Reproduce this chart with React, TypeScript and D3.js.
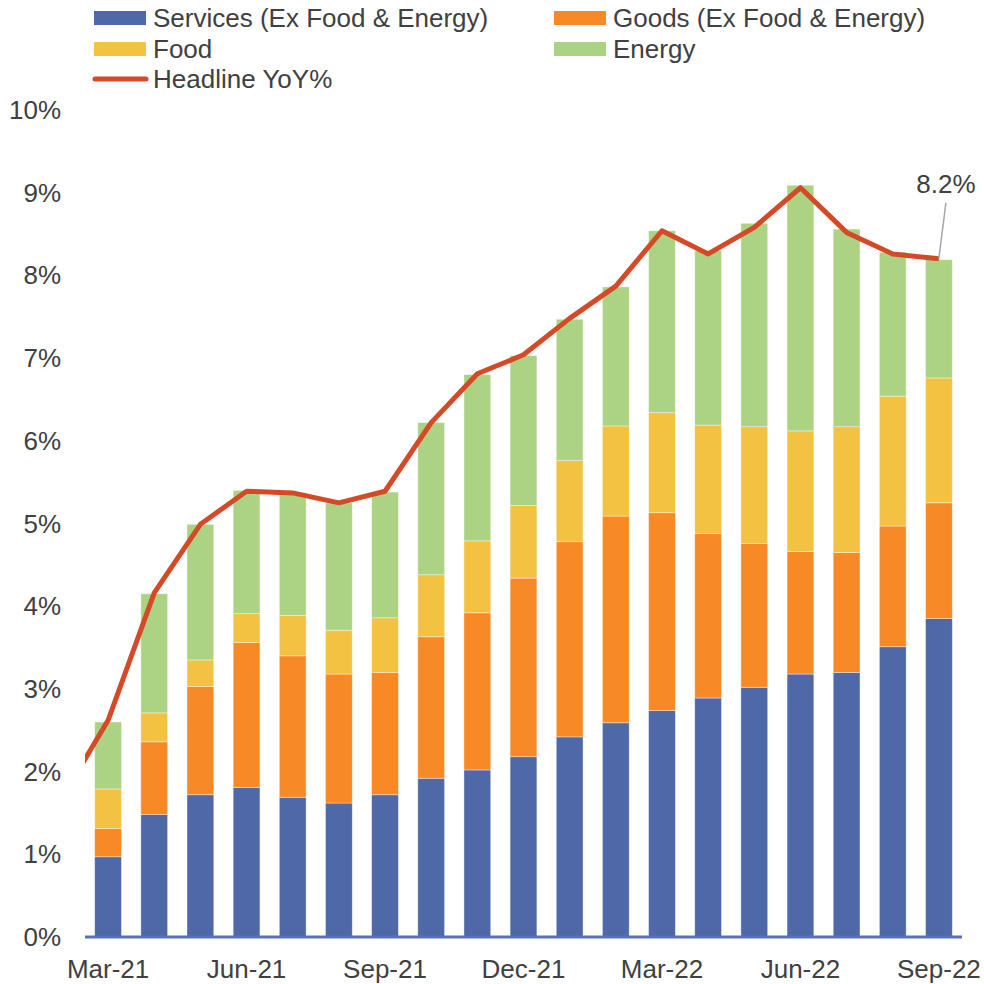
import * as React from 'react';
import * as d3 from 'd3';

// months shown as bars
const months = ['Mar-21', 'Apr-21', 'May-21', 'Jun-21', 'Jul-21', 'Aug-21', 'Sep-21', 'Oct-21', 'Nov-21', 'Dec-21',
  'Jan-22', 'Feb-22', 'Mar-22', 'Apr-22', 'May-22', 'Jun-22', 'Jul-22', 'Aug-22', 'Sep-22'];
const tickMonths = ['Mar-21', 'Jun-21', 'Sep-21', 'Dec-21', 'Mar-22', 'Jun-22', 'Sep-22'];

// contributions in percentage points
const services = [0.97, 1.48, 1.72, 1.81, 1.69, 1.62, 1.72, 1.92, 2.02, 2.18, 2.42, 2.59, 2.74, 2.89, 3.02, 3.18, 3.20, 3.51, 3.85];
const goods = [0.34, 0.88, 1.31, 1.75, 1.71, 1.56, 1.48, 1.71, 1.90, 2.16, 2.36, 2.50, 2.39, 1.99, 1.74, 1.48, 1.45, 1.46, 1.40];
const food = [0.48, 0.35, 0.32, 0.35, 0.49, 0.53, 0.66, 0.75, 0.87, 0.88, 0.98, 1.09, 1.21, 1.31, 1.41, 1.46, 1.52, 1.57, 1.51];
const energy = [0.81, 1.44, 1.64, 1.49, 1.48, 1.54, 1.52, 1.84, 2.01, 1.81, 1.71, 1.68, 2.20, 2.11, 2.46, 2.97, 2.39, 1.74, 1.43];

// headline YoY, first value is Feb-21 (clipped off at the left edge)
const headlinePrev = 1.68;
const headline = [2.62, 4.16, 4.99, 5.39, 5.37, 5.25, 5.39, 6.22, 6.81, 7.04, 7.48, 7.87, 8.54, 8.26, 8.58, 9.06, 8.52, 8.26, 8.20];

const yTicks = [0, 1, 2, 3, 4, 5, 6, 7, 8, 9, 10];

const seriesNames = ['Services (Ex Food & Energy)', 'Goods (Ex Food & Energy)', 'Food', 'Energy'];
const colors = ['#4F68A7', '#F78A26', '#F4C243', '#ACD384'];
const lineColor = '#D44A27';

const W = 984, H = 984;
const left = 85, right = 962, top = 110, bottom = 937;

export default function App() {
  const x = d3.scaleBand<string>().domain(months).range([left, right]).paddingInner(0.42).paddingOuter(0.21);
  const y = d3.scaleLinear().domain([0, 10]).range([bottom, top]);
  const step = x.step();
  const cx = (m: string) => (x(m) as number) + x.bandwidth() / 2;

  const table = months.map((m, i) => ({ month: m, s0: services[i], s1: goods[i], s2: food[i], s3: energy[i] }));
  const stack = d3.stack<any>().keys(['s0', 's1', 's2', 's3'])(table);

  const linePts: [number, number][] = [[cx(months[0]) - step, headlinePrev]].concat(
    months.map((m, i) => [cx(m), headline[i]] as [number, number])) as [number, number][];
  const linePath = d3.line<[number, number]>().x(d => d[0]).y(d => y(d[1]))(linePts) as string;

  const lastX = cx(months[months.length - 1]);
  const lastY = y(headline[headline.length - 1]);

  const font = '"Liberation Sans", Arial, sans-serif';
  const legend = [
    { name: seriesNames[0], x: 94, y: 18, color: colors[0] },
    { name: seriesNames[1], x: 554, y: 18, color: colors[1] },
    { name: seriesNames[2], x: 94, y: 49, color: colors[2] },
    { name: seriesNames[3], x: 554, y: 49, color: colors[3] },
  ];

  return (
    <svg width={W} height={H} style={{ position: 'absolute', left: 0, top: 0, background: '#fff' }} fontFamily={font}>
      <defs>
        <clipPath id="plotClip">
          <rect x={left} y={0} width={W - left} height={H} />
        </clipPath>
      </defs>

      {/* y axis labels */}
      {yTicks.map(t => (
        <text key={t} x={61} y={y(t) + 9} textAnchor="end" fontSize={26} fill="#404040">{t}%</text>
      ))}

      {/* stacked bars */}
      {stack.map((layer, li) => (
        <g key={li} fill={colors[li]}>
          {layer.map((d, i) => (
            <rect key={i} x={x(months[i])} width={x.bandwidth()} y={y(d[1])} height={y(d[0]) - y(d[1])}
              stroke="#ffffff" strokeOpacity={0.5} strokeWidth={0.75} />
          ))}
        </g>
      ))}

      {/* x axis */}
      <line x1={left} x2={right} y1={bottom} y2={bottom} stroke="#5A71B3" strokeWidth={3} />
      {tickMonths.map(m => (
        <text key={m} x={cx(m)} y={978} textAnchor="middle" fontSize={26} fill="#404040">{m}</text>
      ))}

      {/* headline line */}
      <path d={linePath} fill="none" stroke={lineColor} strokeWidth={5} strokeLinejoin="round" clipPath="url(#plotClip)" />

      {/* annotation */}
      <line x1={lastX + 7} y1={lastY - 56} x2={lastX} y2={lastY - 1} stroke="#A6A6A6" strokeWidth={1.5} />
      <text x={lastX + 7} y={lastY - 66} textAnchor="middle" fontSize={26} fill="#404040">8.2%</text>

      {/* legend */}
      {legend.map(l => (
        <g key={l.name}>
          <rect x={l.x} y={l.y - 7} width={52} height={14} fill={l.color} />
          <text x={l.x + 59} y={l.y + 9} fontSize={26} fill="#404040">{l.name}</text>
        </g>
      ))}
      <line x1={95} x2={146} y1={79} y2={79} stroke={lineColor} strokeWidth={5} strokeLinecap="round" />
      <text x={153} y={88} fontSize={26} fill="#404040">Headline YoY%</text>
    </svg>
  );
}
